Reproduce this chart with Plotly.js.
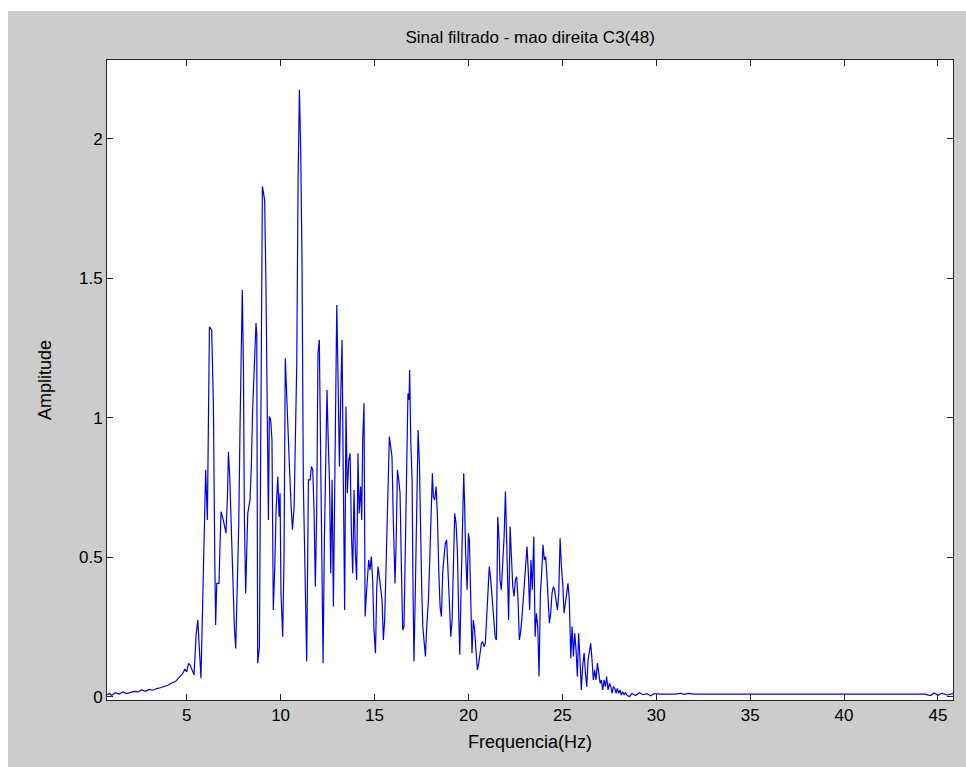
<!DOCTYPE html>
<html>
<head>
<meta charset="utf-8">
<script src="https://cdn.plot.ly/plotly-3.0.1.min.js"></script>
<style>
  html, body { margin: 0; padding: 0; background: #ffffff; width: 966px; height: 767px; overflow: hidden; }
  #chart { position: absolute; left: 8px; top: 11px; width: 958px; height: 756px; }
</style>
</head>
<body>
<div id="chart"></div>
<script>
// Frequency (Hz) and amplitude values
const freq = [
  0.76, 0.9, 1.0, 1.2, 1.4, 1.6, 1.8, 2.0, 2.2, 2.4, 2.6, 2.8, 3.0, 3.2, 3.4, 3.6, 3.8, 4.0, 4.2, 4.4,
  4.6, 4.8, 4.9, 5.0, 5.1, 5.18, 5.39, 5.50, 5.59, 5.67, 5.76, 5.85, 5.94, 6.01, 6.10, 6.15, 6.21, 6.33, 6.42, 6.49,
  6.54, 6.60, 6.72, 6.77, 6.83, 6.95, 7.09, 7.17, 7.22, 7.29, 7.36, 7.45, 7.54, 7.61, 7.68, 7.77, 7.84, 7.91, 7.96, 8.02,
  8.07, 8.14, 8.19, 8.25, 8.37, 8.44, 8.51, 8.59, 8.64, 8.69, 8.73, 8.78, 8.87, 8.94, 9.03, 9.08, 9.15, 9.22, 9.30, 9.35,
  9.40, 9.47, 9.54, 9.61, 9.69, 9.76, 9.85, 9.92, 9.97, 10.02, 10.11, 10.18, 10.25, 10.32, 10.40, 10.47, 10.56, 10.63, 10.72, 10.79,
  10.86, 10.93, 11.00, 11.07, 11.14, 11.21, 11.30, 11.39, 11.48, 11.57, 11.64, 11.71, 11.78, 11.85, 11.92, 11.99, 12.06, 12.14, 12.21, 12.26,
  12.33, 12.40, 12.47, 12.53, 12.60, 12.67, 12.74, 12.81, 12.90, 12.99, 13.06, 13.13, 13.20, 13.27, 13.34, 13.41, 13.48, 13.55, 13.63, 13.70,
  13.77, 13.84, 13.91, 13.98, 14.05, 14.12, 14.18, 14.26, 14.32, 14.37, 14.44, 14.50, 14.57, 14.62, 14.69, 14.76, 14.83, 14.90, 14.97, 15.05,
  15.12, 15.19, 15.26, 15.33, 15.40, 15.47, 15.54, 15.60, 15.67, 15.74, 15.79, 15.86, 15.93, 16.00, 16.09, 16.15, 16.22, 16.29, 16.36, 16.43,
  16.50, 16.57, 16.64, 16.71, 16.78, 16.84, 16.87, 16.93, 17.00, 17.05, 17.10, 17.17, 17.25, 17.32, 17.39, 17.44, 17.51, 17.57, 17.64, 17.71,
  17.78, 17.87, 17.94, 18.01, 18.08, 18.13, 18.20, 18.28, 18.35, 18.42, 18.49, 18.56, 18.63, 18.70, 18.77, 18.84, 18.91, 18.98, 19.06, 19.13,
  19.20, 19.27, 19.34, 19.41, 19.48, 19.54, 19.61, 19.68, 19.75, 19.80, 19.85, 19.93, 20.00, 20.05, 20.12, 20.19, 20.26, 20.33, 20.40, 20.48,
  20.55, 20.62, 20.69, 20.76, 20.83, 20.90, 20.97, 21.04, 21.11, 21.19, 21.26, 21.33, 21.42, 21.49, 21.56, 21.63, 21.68, 21.75, 21.82, 21.90,
  21.97, 22.02, 22.09, 22.14, 22.22, 22.29, 22.36, 22.43, 22.50, 22.57, 22.64, 22.71, 22.77, 22.84, 22.91, 22.98, 23.05, 23.12, 23.19, 23.26,
  23.33, 23.40, 23.48, 23.55, 23.62, 23.69, 23.76, 23.83, 23.90, 23.97, 24.04, 24.11, 24.17, 24.24, 24.31, 24.38, 24.45, 24.52, 24.59, 24.66,
  24.74, 24.81, 24.88, 24.95, 25.02, 25.09, 25.16, 25.23, 25.30, 25.37, 25.45, 25.52, 25.59, 25.66, 25.73, 25.80, 25.87, 25.94, 26.01, 26.08,
  26.16, 26.23, 26.30, 26.37, 26.44, 26.51, 26.58, 26.65, 26.72, 26.79, 26.87, 26.94, 27.01, 27.08, 27.15, 27.22, 27.29, 27.36, 27.43, 27.51,
  27.58, 27.65, 27.72, 27.79, 27.86, 27.93, 28.00, 28.07, 28.14, 28.21, 28.29, 28.36, 28.43, 28.57, 28.7, 28.9, 29.1, 29.3, 29.5, 29.7,
  29.9, 30.2, 30.6, 31.0, 31.3, 31.5, 31.7, 32.0, 33.0, 34.0, 35.0, 36.0, 37.0, 38.0, 39.0, 40.0, 41.0, 42.0, 43.0, 44.0,
  44.3, 44.6, 44.8, 45.0, 45.2, 45.5, 45.8
];
const amplitude = [
  0.008, 0.012, 0.005, 0.015, 0.010, 0.018, 0.012, 0.016, 0.020, 0.018, 0.025, 0.020, 0.027, 0.024, 0.030, 0.033, 0.038, 0.042, 0.050, 0.055,
  0.070, 0.085, 0.100, 0.090, 0.120, 0.115, 0.079, 0.222, 0.276, 0.157, 0.067, 0.336, 0.617, 0.814, 0.634, 0.957, 1.327, 1.315, 1.053, 0.527,
  0.258, 0.407, 0.407, 0.539, 0.664, 0.634, 0.587, 0.718, 0.879, 0.790, 0.652, 0.407, 0.246, 0.174, 0.372, 0.617, 0.975, 1.292, 1.459, 1.184,
  0.646, 0.372, 0.563, 0.658, 0.706, 0.826, 1.029, 1.184, 1.280, 1.340, 1.300, 0.121, 0.180, 1.076, 1.830, 1.810, 1.780, 1.470, 0.921, 0.634,
  1.005, 0.993, 0.921, 0.312, 0.467, 0.670, 0.790, 0.646, 0.730, 0.372, 0.216, 0.491, 1.214, 1.065, 0.921, 0.826, 0.682, 0.599, 0.682, 0.909,
  1.196, 1.850, 2.176, 1.960, 1.550, 0.766, 0.372, 0.127, 0.778, 0.778, 0.826, 0.814, 0.670, 0.395, 0.658, 1.232, 1.280, 0.849, 0.575, 0.121,
  0.563, 0.861, 1.100, 0.933, 0.778, 0.443, 0.778, 0.324, 0.826, 1.405, 1.136, 0.826, 1.076, 1.280, 0.766, 0.312, 1.041, 0.730, 0.849, 0.873,
  0.587, 0.443, 0.742, 0.515, 0.419, 0.873, 0.658, 0.754, 0.634, 0.921, 1.053, 0.288, 0.372, 0.443, 0.491, 0.455, 0.503, 0.419, 0.240, 0.157,
  0.395, 0.467, 0.419, 0.384, 0.348, 0.204, 0.276, 0.431, 0.611, 0.826, 0.933, 0.897, 0.861, 0.634, 0.407, 0.551, 0.814, 0.778, 0.730, 0.467,
  0.240, 0.252, 0.551, 0.921, 1.088, 1.065, 1.172, 0.921, 0.778, 0.384, 0.127, 0.372, 0.706, 0.957, 0.838, 0.587, 0.395, 0.252, 0.180, 0.145,
  0.252, 0.348, 0.491, 0.694, 0.802, 0.718, 0.706, 0.754, 0.646, 0.455, 0.324, 0.288, 0.443, 0.503, 0.551, 0.563, 0.479, 0.348, 0.216, 0.276,
  0.467, 0.658, 0.622, 0.527, 0.300, 0.151, 0.395, 0.658, 0.802, 0.682, 0.515, 0.384, 0.587, 0.563, 0.348, 0.157, 0.276, 0.240, 0.168, 0.097,
  0.121, 0.168, 0.192, 0.198, 0.180, 0.192, 0.276, 0.384, 0.467, 0.419, 0.348, 0.276, 0.216, 0.204, 0.646, 0.563, 0.419, 0.384, 0.467, 0.575,
  0.736, 0.599, 0.395, 0.276, 0.611, 0.491, 0.395, 0.360, 0.419, 0.431, 0.348, 0.204, 0.228, 0.276, 0.348, 0.407, 0.479, 0.539, 0.443, 0.312,
  0.491, 0.384, 0.575, 0.216, 0.300, 0.252, 0.073, 0.372, 0.443, 0.545, 0.491, 0.503, 0.443, 0.348, 0.264, 0.300, 0.372, 0.395, 0.384, 0.348,
  0.312, 0.372, 0.569, 0.467, 0.407, 0.300, 0.336, 0.372, 0.407, 0.348, 0.139, 0.252, 0.145, 0.228, 0.168, 0.073, 0.228, 0.133, 0.025, 0.109,
  0.157, 0.085, 0.037, 0.133, 0.157, 0.192, 0.133, 0.061, 0.097, 0.061, 0.121, 0.073, 0.049, 0.061, 0.025, 0.061, 0.037, 0.073, 0.025, 0.049,
  0.037, 0.013, 0.037, 0.031, 0.013, 0.031, 0.013, 0.025, 0.007, 0.019, 0.007, 0.016, 0.007, 0.001, 0.012, 0.005, 0.015, 0.008, 0.012, 0.004,
  0.012, 0.010, 0.010, 0.010, 0.013, 0.009, 0.013, 0.010, 0.010, 0.010, 0.010, 0.010, 0.010, 0.010, 0.010, 0.010, 0.010, 0.010, 0.010, 0.010,
  0.010, 0.005, 0.014, 0.006, 0.013, 0.007, 0.012
];
const xTicks = [5, 10, 15, 20, 25, 30, 35, 40, 45];
const yTicks = [0, 0.5, 1, 1.5, 2];
const chartTitle = 'Sinal filtrado - mao direita C3(48)';
const xLabel = 'Frequencia(Hz)';
const yLabel = 'Amplitude';

const fontFam = '"Liberation Sans", Arial, sans-serif';
const axisCommon = {
  showline: true, mirror: 'ticks', linecolor: '#262626', linewidth: 1,
  ticks: 'inside', ticklen: 6, tickcolor: '#262626', tickwidth: 1,
  showgrid: false, zeroline: false,
  tickfont: { family: fontFam, size: 17, color: '#000000' }
};

Plotly.newPlot('chart', [{
  x: freq, y: amplitude, type: 'scatter', mode: 'lines',
  line: { color: '#0000ee', width: 1.2 }, hoverinfo: 'skip'
}], {
  width: 958, height: 756,
  paper_bgcolor: '#cccccc', plot_bgcolor: '#ffffff',
  margin: { l: 99, r: 13, t: 49, b: 67 },
  showlegend: false,
  title: { text: chartTitle, font: { family: fontFam, size: 17, color: '#000000' }, x: 0.545, xanchor: 'center', y: 0.966, yanchor: 'middle' },
  xaxis: Object.assign({}, axisCommon, {
    range: [0.756, 45.8], tickmode: 'array', tickvals: xTicks, ticktext: xTicks.map(String),
    title: { text: xLabel, font: { family: fontFam, size: 18, color: '#000000' }, standoff: 10 }
  }),
  yaxis: Object.assign({}, axisCommon, {
    range: [-0.011, 2.283], tickmode: 'array', tickvals: yTicks, ticktext: yTicks.map(String),
    title: { text: yLabel, font: { family: fontFam, size: 18, color: '#000000' }, standoff: 22 }
  })
}, { staticPlot: true, displayModeBar: false });
</script>
</body>
</html>
